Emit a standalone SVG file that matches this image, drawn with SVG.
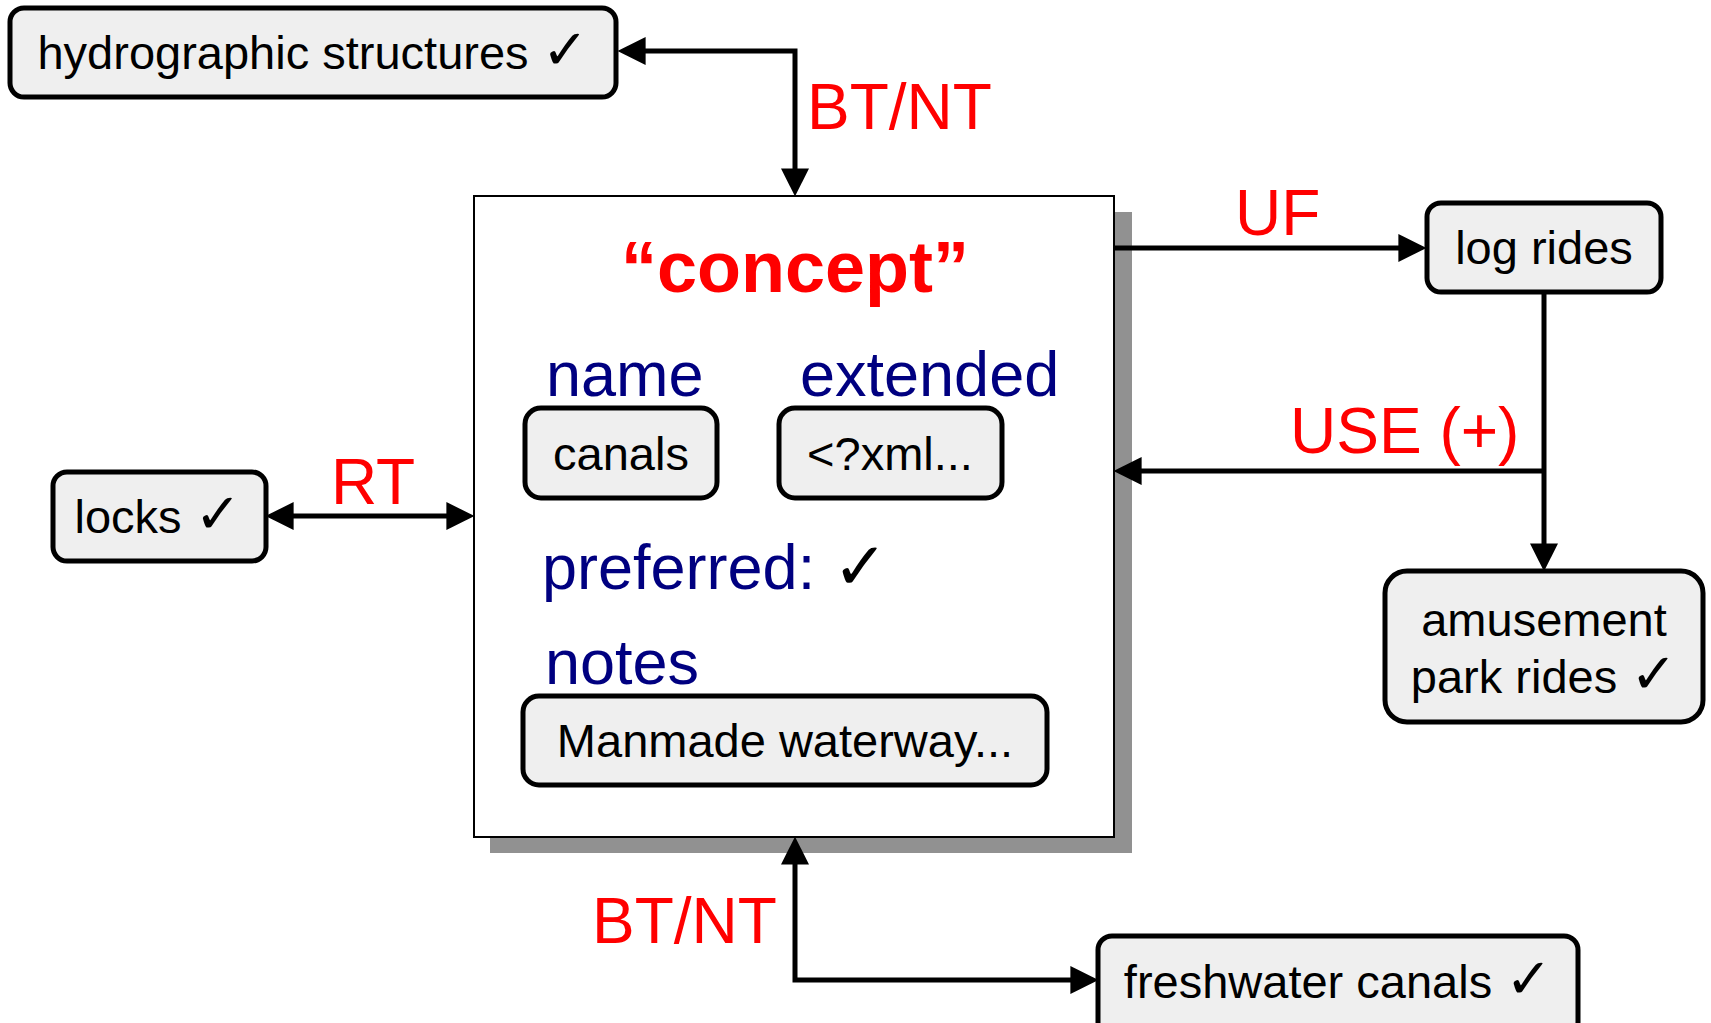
<svg xmlns="http://www.w3.org/2000/svg" width="1711" height="1023" viewBox="0 0 1711 1023">
<style>
.box{fill:#efefef;stroke:#000;stroke-width:5}
.t{font-family:"Liberation Sans",Arial,sans-serif;font-size:47px;fill:#000}
.ck{font-family:"DejaVu Sans",sans-serif;font-weight:bold}
.lbl{font-family:"Liberation Sans",Arial,sans-serif;font-size:64px;fill:#ff0000}
.fld{font-family:"Liberation Sans",Arial,sans-serif;font-size:63px;fill:#000080}
.ln{fill:none;stroke:#000;stroke-width:5}
</style>
<defs>
<marker id="arr" viewBox="0 0 10 10" refX="7" refY="5" markerWidth="28" markerHeight="28" markerUnits="userSpaceOnUse" orient="auto-start-reverse">
<path d="M0,0 L10,5 L0,10 z" fill="#000"/>
</marker>
</defs>
<rect width="1711" height="1023" fill="#fff"/>

<g id="concept">
<rect x="490" y="212" width="642" height="641" fill="#919191"/>
<rect x="474" y="196" width="640" height="641" fill="#fff" stroke="#000" stroke-width="2"/>
<text x="795" y="292" text-anchor="middle" font-family="'Liberation Sans',Arial,sans-serif" font-weight="bold" font-size="72" fill="#ff0000">“concept”</text>
<text class="fld" x="546" y="396">name</text>
<text class="fld" x="800" y="396">extended</text>
<rect class="box" x="525" y="408" width="192" height="90" rx="16"/>
<text class="t" x="621" y="470" text-anchor="middle">canals</text>
<rect class="box" x="779" y="408" width="223" height="90" rx="16"/>
<text class="t" x="890" y="470" text-anchor="middle">&lt;?xml...</text>
<text class="fld" x="542" y="589">preferred: <tspan class="ck" fill="#000" font-size="66">✓</tspan></text>
<text class="fld" x="545" y="684">notes</text>
<rect class="box" x="523" y="696" width="524" height="89" rx="16"/>
<text class="t" x="785" y="757" text-anchor="middle">Manmade waterway...</text>
</g>

<g id="hydrographic">
<rect class="box" x="10" y="8" width="606" height="89" rx="14"/>
<text class="t" x="313" y="69" text-anchor="middle" font-size="48">hydrographic structures <tspan class="ck" font-size="56">✓</tspan></text>
</g>

<g id="locks">
<rect class="box" x="53" y="472" width="213" height="89" rx="14"/>
<text class="t" x="158" y="533" text-anchor="middle">locks <tspan class="ck" font-size="56">✓</tspan></text>
</g>

<g id="logrides">
<rect class="box" x="1427" y="203" width="234" height="89" rx="14"/>
<text class="t" x="1544" y="264" text-anchor="middle">log rides</text>
</g>

<g id="amusement">
<rect class="box" x="1385" y="571" width="318" height="151" rx="22"/>
<text class="t" x="1544" y="636" text-anchor="middle">amusement</text>
<text class="t" x="1544" y="693" text-anchor="middle">park rides <tspan class="ck" font-size="56">✓</tspan></text>
</g>

<g id="freshwater">
<rect class="box" x="1098" y="936" width="480" height="100" rx="14"/>
<text class="t" x="1338" y="998" text-anchor="middle">freshwater canals <tspan class="ck" font-size="56">✓</tspan></text>
</g>

<g id="connectors">
<path class="ln" d="M626,51 H795 V188" marker-start="url(#arr)" marker-end="url(#arr)"/>
<path class="ln" d="M274,516 H466" marker-start="url(#arr)" marker-end="url(#arr)"/>
<path class="ln" d="M1114,248 H1418" marker-end="url(#arr)"/>
<path class="ln" d="M1544,292 V563"  marker-end="url(#arr)"/>
<path class="ln" d="M1546,471 H1122" marker-end="url(#arr)"/>
<path class="ln" d="M795,845 V980 H1090" marker-start="url(#arr)" marker-end="url(#arr)"/>
<text class="lbl" x="807" y="129">BT/NT</text>
<text class="lbl" x="331" y="504">RT</text>
<text class="lbl" x="1235" y="235">UF</text>
<text class="lbl" x="1290" y="453">USE (+)</text>
<text class="lbl" x="592" y="943">BT/NT</text>
</g>
</svg>
